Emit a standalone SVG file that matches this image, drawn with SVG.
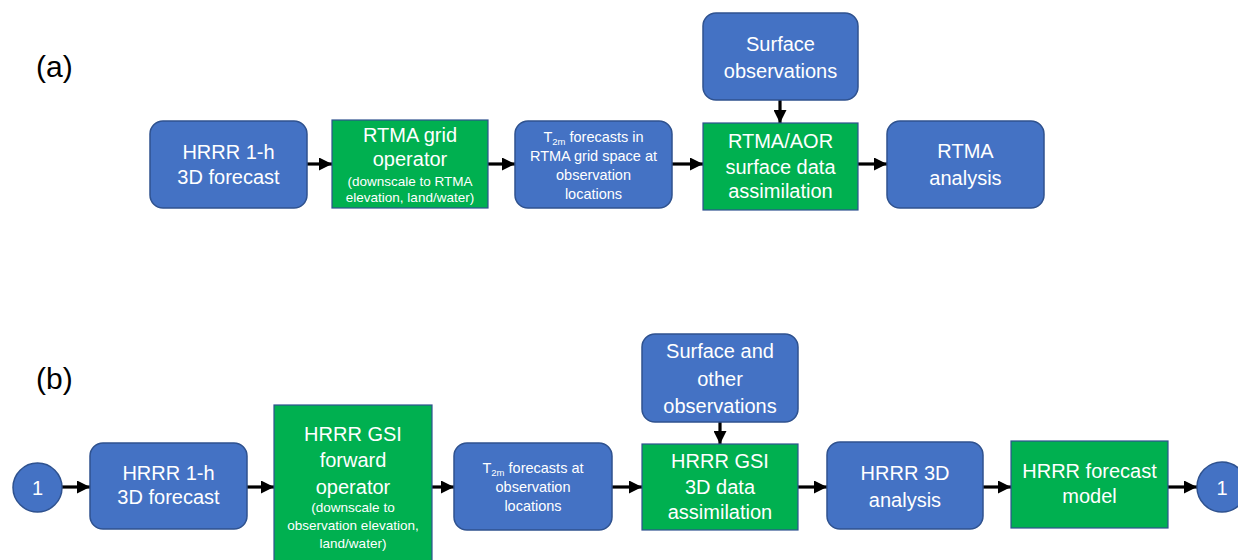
<svg xmlns="http://www.w3.org/2000/svg" width="1238" height="560" viewBox="0 0 1238 560">
<defs>
<style>
.bx{fill:#4472C4;stroke:#2F528F;stroke-width:1.5}
.gr{fill:#00B050;stroke:#2F528F;stroke-width:1.2}
text{font-family:"Liberation Sans",Arial,sans-serif;fill:#fff;text-anchor:middle}
.l{font-size:20px}
.s{font-size:13.5px}
.m{font-size:14.5px}
.lab{font-size:30px;fill:#000;text-anchor:start}
.c{stroke:#000;stroke-width:3.2;fill:none}
</style>
<marker id="ah" markerUnits="userSpaceOnUse" markerWidth="13" markerHeight="13" viewBox="0 0 13 13" refX="13" refY="6.5" orient="auto">
<path d="M0,0 L13,6.5 L0,13 Z" fill="#000"/>
</marker>
</defs>
<rect width="1238" height="560" fill="#fff"/>
<text class="lab" x="36" y="77">(a)</text>
<text class="lab" x="36" y="389">(b)</text>

<g id="connectors">
<line class="c" x1="307" y1="164" x2="332" y2="164" marker-end="url(#ah)"/>
<line class="c" x1="488" y1="164" x2="515" y2="164" marker-end="url(#ah)"/>
<line class="c" x1="672" y1="164" x2="703" y2="164" marker-end="url(#ah)"/>
<line class="c" x1="858" y1="164" x2="887" y2="164" marker-end="url(#ah)"/>
<line class="c" x1="780" y1="100" x2="780" y2="123" marker-end="url(#ah)"/>
<line class="c" x1="62" y1="487" x2="90" y2="487" marker-end="url(#ah)"/>
<line class="c" x1="247" y1="487" x2="274" y2="487" marker-end="url(#ah)"/>
<line class="c" x1="432" y1="487" x2="454" y2="487" marker-end="url(#ah)"/>
<line class="c" x1="612" y1="487" x2="642" y2="487" marker-end="url(#ah)"/>
<line class="c" x1="798" y1="487" x2="827" y2="487" marker-end="url(#ah)"/>
<line class="c" x1="983" y1="487" x2="1011" y2="487" marker-end="url(#ah)"/>
<line class="c" x1="1168" y1="487" x2="1197" y2="487" marker-end="url(#ah)"/>
<line class="c" x1="720" y1="422" x2="720" y2="444" marker-end="url(#ah)"/>
</g>

<g id="a_hrrr">
<rect class="bx" x="150" y="121" width="157" height="87" rx="13"/>
<text class="l" x="228.5" y="159">HRRR 1-h</text>
<text class="l" x="228.5" y="184">3D forecast</text>
</g>
<g id="a_gridop">
<rect class="gr" x="332" y="120" width="156" height="88"/>
<text class="l" x="410" y="142">RTMA grid</text>
<text class="l" x="410" y="166">operator</text>
<text class="s" x="410" y="186">(downscale to RTMA</text>
<text class="s" x="410" y="202">elevation, land/water)</text>
</g>
<g id="a_t2m">
<rect class="bx" x="515" y="121" width="157" height="87" rx="13"/>
<text class="m" x="593.5" y="142">T<tspan font-size="9.5" dy="3">2m</tspan><tspan dy="-3"> forecasts in</tspan></text>
<text class="m" x="593.5" y="161">RTMA grid space at</text>
<text class="m" x="593.5" y="180">observation</text>
<text class="m" x="593.5" y="199">locations</text>
</g>
<g id="a_obs">
<rect class="bx" x="703" y="13" width="155" height="87" rx="13"/>
<text class="l" x="780.5" y="51" font-size="21">Surface</text>
<text class="l" x="780.5" y="78" font-size="21">observations</text>
</g>
<g id="a_da">
<rect class="gr" x="703" y="123" width="155" height="87"/>
<text class="l" x="780.5" y="148">RTMA/AOR</text>
<text class="l" x="780.5" y="174">surface data</text>
<text class="l" x="780.5" y="198">assimilation</text>
</g>
<g id="a_analysis">
<rect class="bx" x="887" y="121" width="157" height="87" rx="13"/>
<text class="l" x="965.5" y="158" font-size="21">RTMA</text>
<text class="l" x="965.5" y="185" font-size="21">analysis</text>
</g>

<g id="b_c1">
<circle class="bx" cx="37.5" cy="487.5" r="24.5"/>
<text class="l" x="37.5" y="495" font-size="21">1</text>
</g>
<g id="b_hrrr">
<rect class="bx" x="90" y="443" width="157" height="86" rx="13"/>
<text class="l" x="168.5" y="480">HRRR 1-h</text>
<text class="l" x="168.5" y="504">3D forecast</text>
</g>
<g id="b_fwdop">
<rect class="gr" x="274" y="405" width="158" height="160"/>
<text class="l" x="353" y="441">HRRR GSI</text>
<text class="l" x="353" y="467">forward</text>
<text class="l" x="353" y="494">operator</text>
<text class="s" x="353" y="512">(downscale to</text>
<text class="s" x="353" y="530">observation elevation,</text>
<text class="s" x="353" y="548">land/water)</text>
</g>
<g id="b_t2m">
<rect class="bx" x="454" y="443" width="158" height="87" rx="13"/>
<text class="m" x="533" y="473">T<tspan font-size="9.5" dy="3">2m</tspan><tspan dy="-3"> forecasts at</tspan></text>
<text class="m" x="533" y="492">observation</text>
<text class="m" x="533" y="511">locations</text>
</g>
<g id="b_obs">
<rect class="bx" x="642" y="334" width="156" height="88" rx="13"/>
<text class="l" x="720" y="358" font-size="21">Surface and</text>
<text class="l" x="720" y="386" font-size="21">other</text>
<text class="l" x="720" y="413" font-size="21">observations</text>
</g>
<g id="b_da">
<rect class="gr" x="642" y="444" width="156" height="86"/>
<text class="l" x="720" y="468">HRRR GSI</text>
<text class="l" x="720" y="494">3D data</text>
<text class="l" x="720" y="519">assimilation</text>
</g>
<g id="b_analysis">
<rect class="bx" x="827" y="442" width="156" height="87" rx="13"/>
<text class="l" x="905" y="480">HRRR 3D</text>
<text class="l" x="905" y="507">analysis</text>
</g>
<g id="b_model">
<rect class="gr" x="1011" y="441" width="157" height="87"/>
<text class="l" x="1089.5" y="478" font-size="18.5">HRRR forecast</text>
<text class="l" x="1089.5" y="503" font-size="18.5">model</text>
</g>
<g id="b_c2">
<circle class="bx" cx="1222" cy="487" r="25"/>
<text class="l" x="1222" y="495" font-size="21">1</text>
</g>
</svg>
